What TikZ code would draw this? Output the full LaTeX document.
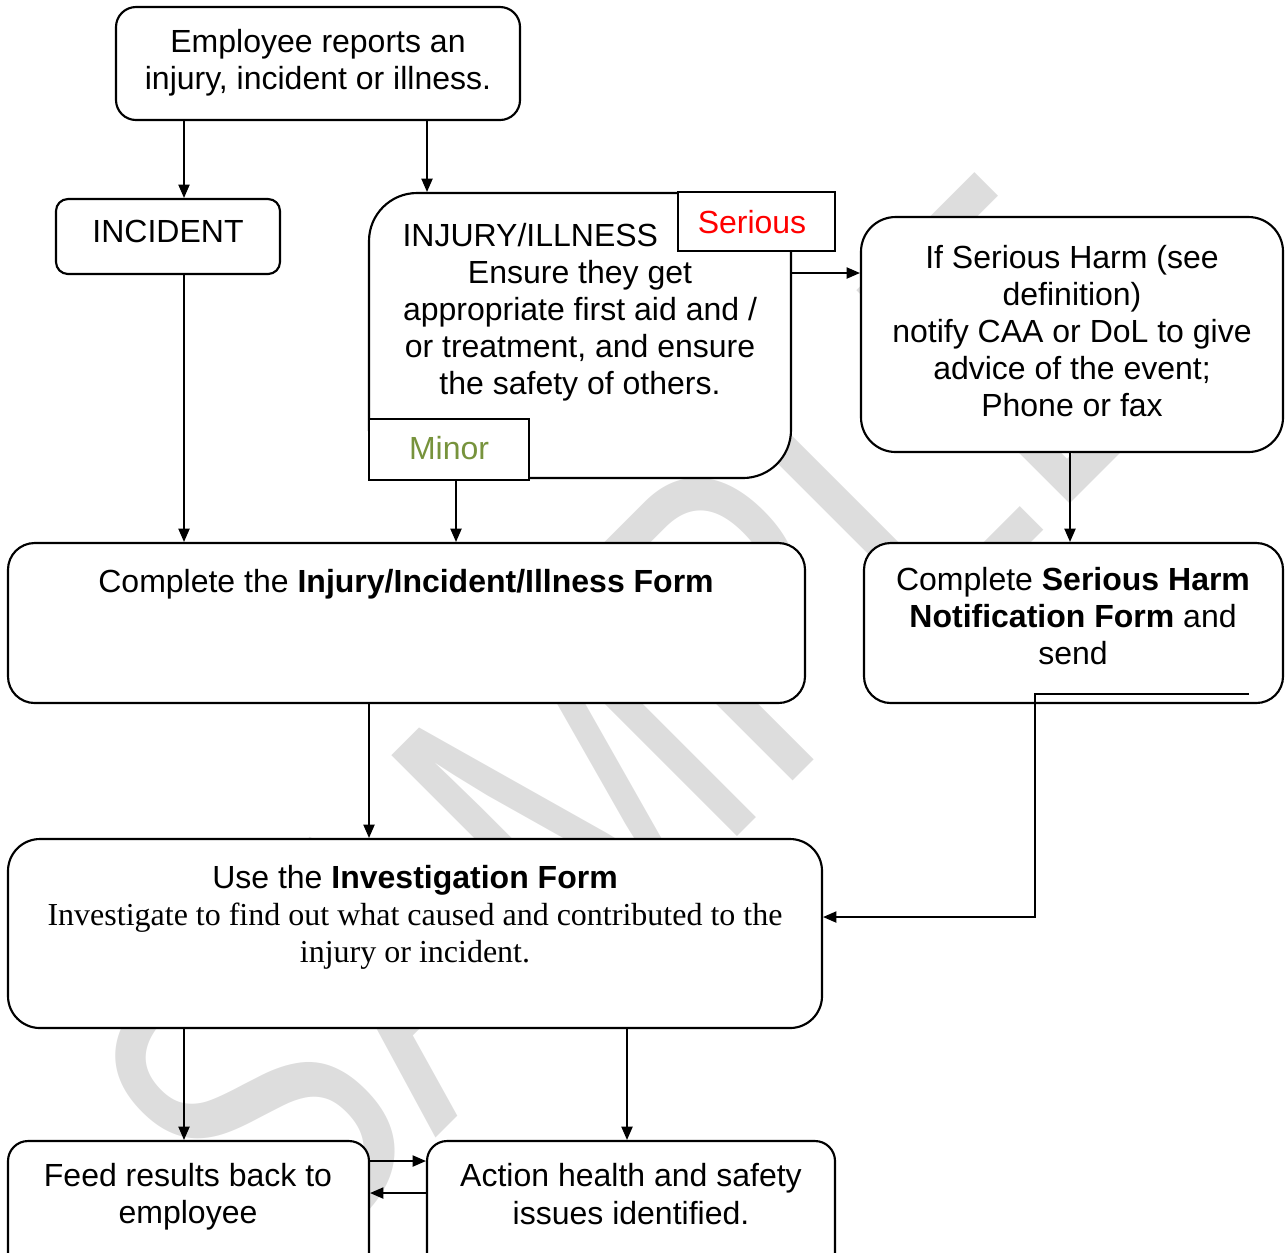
\documentclass[tikz,border=0pt]{standalone}
\usepackage{fontspec}
\setmainfont{Liberation Sans}
\newfontfamily\timesfont{Liberation Serif}
\usetikzlibrary{arrows.meta,positioning,fit}
\definecolor{minorgreen}{HTML}{77933C}
\definecolor{wmgray}{HTML}{DDDDDD}

\begin{document}
\begin{tikzpicture}[x=0.375pt, y=-0.375pt,
    box/.style={draw, line width=0.8pt, fill=white, rounded corners=#1, inner sep=0pt},
    box/.default=7.5pt,
    tag/.style={draw, line width=0.8pt, fill=white, inner sep=0pt},
    txt/.style={align=center, inner sep=0pt, font=\fontsize{12}{13.9}\selectfont},
    arr/.style={-{Triangle[length=5pt, width=4.2pt]}, line width=0.55pt}]
  \useasboundingbox (0,0) rectangle (1285,1252);
  \clip (0,0) rectangle (1285,1252);
  % watermark
  \node[rotate=45, xscale=0.73, anchor=base west, inner sep=0pt, text=wmgray,
    font=\fontsize{164.4}{164.4}\selectfont] (wm) at (284,1290) {SAMPLE};

  % boxes
  \node[box, fit={(116,7) (520,120)}] (emp) {};
  \node[box=4.5pt, fit={(56,199) (280,274)}] (inc) {};
  \node[box=18pt, fit={(369,193) (791,478)}] (inj) {};
  \node[tag, fit={(678,192) (835,251)}] (ser) {};
  \node[tag, fit={(369,419) (529,480)}] (min) {};
  \node[box=13pt, fit={(861,217) (1283,452)}] (harm) {};
  \node[box=10pt, fit={(8,543) (805,703)}] (form) {};
  \node[box=10pt, fit={(864,543) (1283,703)}] (shf) {};
  \node[box=12pt, fit={(8,839) (822,1028)}] (inv) {};
  \node[box, fit={(8,1141) (369,1275)}] (feed) {};
  \node[box, fit={(427,1141) (835,1275)}] (act) {};

  % texts
  \node[txt] (empT) at (318,63) {Employee reports an\\injury, incident or illness.};
  \node[txt] (incT) at (168,231) {INCIDENT};
  \node[txt, anchor=west] (injH) at (402,235) {INJURY/ILLNESS};
  \node[txt] (injT) at (580,331) {Ensure they get\\appropriate first aid and /\\or treatment, and ensure\\the safety of others.};
  \node[txt, text=red] (serT) at (752,222) {Serious};
  \node[txt, text=minorgreen] (minT) at (449,448) {Minor};
  \node[txt] (harmT) at (1072,331) {If Serious Harm (see\\definition)\\notify CAA or DoL to give\\advice of the event;\\Phone or fax};
  \node[txt] (formT) at (406,584) {Complete the \textbf{Injury/Incident/Illness Form}};
  \node[txt] (shfT) at (1073,616) {Complete \textbf{Serious Harm}\\\textbf{Notification Form} and\\send};
  \node[txt] (invT) at (415,917) {Use the \textbf{Investigation Form}\\
    \timesfont Investigate to find out what caused and contributed to the\\
    \timesfont injury or incident.};
  \node[txt] (feedT) at (188,1197) {Feed results back to\\employee};
  \node[txt] (actT) at (631,1194) {Action health and safety\\issues identified.};

  % connectors
  \draw[arr] (emp.south -| 184,0) -- (inc.north -| 184,0);
  \draw[arr] (emp.south -| 427,0) -- (inj.north -| 427,0);
  \draw[arr] (inc.south -| 184,0) -- (form.north -| 184,0);
  \draw[arr] (min.south -| 456,0) -- (form.north -| 456,0);
  \draw[arr] (inj.east |- 0,273) -- (harm.west |- 0,273);
  \draw[arr] (harm.south -| 1070,0) -- (shf.north -| 1070,0);
  \draw[arr] (form.south -| 369,0) -- (inv.north -| 369,0);
  \coordinate (shfout) at (1249,694);
  \draw[arr] (shfout) -- (shfout -| 1035,0) |- (inv.east |- 0,917);
  \draw[arr] (inv.south -| 184,0) -- (feed.north -| 184,0);
  \draw[arr] (inv.south -| 627,0) -- (act.north -| 627,0);
  \draw[arr] (feed.east |- 0,1161) -- (act.west |- 0,1161);
  \draw[arr] (act.west |- 0,1193) -- (feed.east |- 0,1193);
\end{tikzpicture}
\end{document}
